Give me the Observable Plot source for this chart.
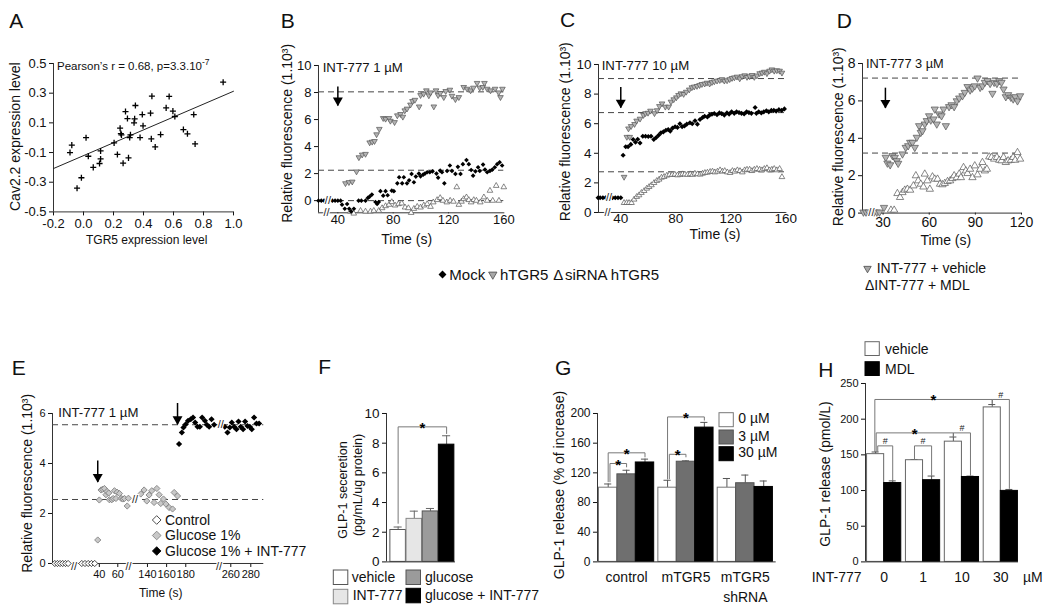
<!DOCTYPE html>
<html><head><meta charset="utf-8">
<script src="https://cdn.jsdelivr.net/npm/d3@7"></script>
<script src="https://cdn.jsdelivr.net/npm/@observablehq/plot@0.6"></script>
<style>
html,body{margin:0;padding:0;background:#fff;}
#root{position:relative;width:1050px;height:611px;overflow:hidden;background:#fff;}
</style></head><body><div id="root"></div>
<script>
// ================= DATA =================
// --- A: correlation ---
const aTGR5 = [-0.09,-0.078,-0.043,-0.014,0.017,0.032,0.065,0.107,0.114,0.114,0.204,0.226,0.244,0.249,0.253,0.264,0.28,0.293,0.3,0.308,0.313,0.346,0.341,0.337,0.377,0.392,0.397,0.447,0.456,0.452,0.478,0.514,0.551,0.571,0.596,0.609,0.666,0.693,0.735,0.744,0.931];
const aCav22 = [-0.1,-0.05,-0.34,-0.27,0.0,-0.125,-0.2,-0.174,-0.089,-0.143,-0.035,-0.113,0.064,0.028,0.019,-0.172,0.176,0.129,-0.136,0.001,0.019,0.217,0.127,0.1,0.001,0.156,0.08,0.165,0.28,-0.008,-0.062,0.021,0.201,0.278,0.179,0.143,0.055,0.026,0.156,-0.042,0.374];
const aFit = {slope: 0.434, intercept: -0.121};
const aXDomain = [-0.2, 1.0], aYDomain = [-0.5, 0.5];
const aXTicks = [-0.2, 0, 0.2, 0.4, 0.6, 0.8, 1.0];
const aYTicks = [-0.5, -0.3, -0.1, 0.1, 0.3, 0.5];

// --- B: INT-777 1 µM ---
const bXDomain = [26, 160], bYDomain = [-0.9, 10];
const bXTicks = [40, 80, 120, 160], bYTicks = [0, 2, 4, 6, 8, 10];
const bMock = [[26,0],[28,0],[30,0],[36,0],[38,0],[40,0],[42,0],[43,-0.3],[45,-0.6],[46.7,-0.25],[48.2,-0.6],[49.6,-0.8],[51.6,-0.6],[55,0],[57,0],[60,0],[61.7,0.2],[63,0.3],[64.6,0.45],[67.2,-0.1],[68.4,-0.25],[69.6,-0.1],[70.8,0.7],[72.8,0.37],[74.5,0.7],[76,0.4],[79,0.74],[80.5,0.7],[83,1.28],[84.3,1.73],[86.5,1.28],[87.7,1.73],[90,1.28],[91.5,1.5],[93.3,1.98],[95,1.36],[96.4,1.78],[98.6,2.0],[99.8,1.8],[101.7,1.93],[103,2.0],[104.6,2.1],[106.5,2.1],[108.5,2.17],[111.3,2.0],[112.5,1.7],[114,2.22],[115.3,2.1],[117,1.28],[119,2.2],[121,2.6],[122.5,2.2],[125,1.98],[126.8,2.5],[128.7,1.98],[130.4,2.7],[133,3.0],[134.7,2.7],[136.4,2.27],[137.8,1.85],[139.5,2.17],[141.4,2.47],[142.6,2.2],[145,2.67],[146.4,2.3],[148,2.1],[150,2.2],[151.7,2.3],[153.5,2.47],[155.2,2.7],[157,2.84],[158.8,2.6]];
const bHTGR5 = [[45.5,1.28],[48,1.36],[50.4,1.4],[53.5,2.15],[55.2,3.2],[57.6,3.4],[60,3.45],[63,4.3],[64.8,4.35],[66.5,4.4],[68,4.9],[70,5.3],[72.8,6.1],[74.5,6.05],[77,6.1],[78,5.9],[81,5.8],[83,6.3],[85.3,6.4],[87,6.2],[88.4,6.67],[90,6.8],[92.5,7.1],[94,7.36],[95.7,7.45],[98.8,6.96],[99.8,7.8],[102,7.9],[104,8.15],[105.8,7.78],[107,8.0],[109.4,6.96],[111,8.15],[112.5,7.8],[114,7.95],[116.6,7.65],[118,8.1],[121,8.2],[122.5,7.75],[125,7.5],[127.5,7.65],[131,8.4],[133.5,8.27],[136,8.15],[138,8.35],[140.7,8.7],[142.6,8.35],[144.8,8.4],[146,8.7],[148,8.27],[150.4,8.15],[153.7,8.27],[156.3,8.0],[157.6,7.65],[159,8.27]];
const bSiRNA = [[49,-0.8],[51.5,-0.95],[56.4,-0.75],[60,-0.8],[63.6,-0.8],[66,-0.75],[69.6,-0.75],[72,-0.55],[74.5,-0.4],[77,-0.3],[79,-0.1],[81.4,-0.35],[83.8,-0.25],[86.2,-0.2],[88.6,-0.5],[91,-0.55],[93,-0.9],[95,-0.6],[97.4,-0.45],[99.8,-0.5],[102.2,-0.35],[104.6,-0.25],[107,-0.45],[109,-0.12],[111.8,0.05],[114,0.2],[116,0.0],[118.8,-0.12],[121.2,0.0],[123.6,-0.07],[126,1.0],[127.5,-0.3],[129.4,-0.07],[131,0.12],[133,0.25],[134.7,0.05],[136.4,-0.12],[138.3,0.05],[140.2,0.0],[143,-0.12],[145.6,0.25],[148,0.0],[150,0.74],[152,0.0],[154.5,1.1],[156.5,0.0],[160,1.0]];
const bPlateaus = [8.05, 2.25, 0];
const bArrows = [{t: 40, from: 8.4, to: 7.0}];
const bBreaks = [{t: 32.8, y: 0}, {t: 31.8, y: -0.9}];

// --- C: INT-777 10 µM ---
const cXDomain = [23.8, 160], cYDomain = [0, 10];
const cXTicks = [40, 80, 120, 160], cYTicks = [0, 2, 4, 6, 8, 10];
const cMock = [[23.5,1],[25,1],[27,1],[29,1],[34,1],[36,1],[38,1],[40,1],[41.7,3.87],[43.6,4.44],[45.3,4.44],[47.3,4.6],[49,4.93],[50.7,4.75],[52.3,4.95],[54,4.7],[56,5.15],[58,5.15],[60,5.13],[62,5.15],[64,4.93],[65.8,5.07],[67.5,5.22],[69.2,5.38],[71,5.45],[72.8,5.56],[74.5,5.6],[76,5.5],[77.6,5.7],[79.5,5.79],[81.2,5.75],[83,6.0],[84.6,5.8],[86.3,5.85],[88,5.97],[90.3,6.06],[92,6.0],[94,6.2],[95.7,5.97],[97.6,6.28],[99.5,6.42],[101,6.5],[103,6.45],[104.6,6.58],[106.3,6.64],[108,6.69],[110,6.6],[111.7,6.73],[113.4,6.68],[115.3,6.58],[117.2,6.73],[118.8,6.65],[120.6,6.8],[122.5,6.7],[124.2,6.8],[126,6.75],[127.8,6.7],[129.7,6.66],[131.5,6.8],[133.2,6.75],[135,6.7],[137.7,7.09],[138.6,6.7],[140.3,6.8],[142.2,6.73],[144,6.8],[145.9,6.87],[147.6,6.8],[149.5,6.9],[151.3,6.9],[153,6.85],[155,6.95],[157,6.9],[159,7.0]];
const cHTGR5 = [[42.4,2.4],[44.4,5.1],[45.6,5.67],[46.5,5.1],[47.5,5.83],[50,5.97],[51.5,6.2],[54,6.33],[56.5,6.58],[58,6.7],[59.8,6.73],[61.6,6.87],[64.5,6.7],[66.4,6.9],[68.1,7.18],[70,7.36],[72.4,7.14],[74.8,7.14],[76.5,7.48],[78.5,7.64],[80.4,7.77],[82,7.93],[83.7,8.04],[85.7,8.0],[87.6,8.15],[89.8,8.3],[91.7,8.45],[93.4,8.5],[95.4,8.54],[97.3,8.6],[99,8.67],[101,8.7],[102.7,8.76],[104.6,8.7],[106.3,8.8],[108,8.85],[110,8.9],[112,8.94],[113.6,9.0],[115.3,8.9],[117.3,8.92],[119.2,9.0],[120.9,9.08],[122.6,9.12],[124.5,9.17],[126.5,9.05],[128.2,9.2],[130.1,9.26],[131.8,9.15],[133.7,9.2],[135.4,9.28],[137.1,9.15],[139,9.25],[141,9.4],[142.7,9.44],[144.4,9.5],[146.3,9.4],[148.2,9.57],[149.9,9.66],[151.6,9.57],[153.5,9.6],[155.5,9.57],[157.2,9.44]];
const cSiRNA = [[42.4,0.65],[44.3,0.65],[46,0.65],[47.8,0.65],[49.7,0.88],[51.6,1.06],[53.3,1.17],[55,1.33],[57,1.46],[58.9,1.62],[60.6,1.73],[62.3,1.85],[64.2,2.0],[66.2,2.14],[67.9,2.23],[69.6,2.36],[71.5,2.41],[73.5,2.5],[75.4,2.55],[77.4,2.55],[79.3,2.57],[81.3,2.52],[83.2,2.55],[84.9,2.59],[86.6,2.58],[88.5,2.55],[90.5,2.59],[92.2,2.55],[93.9,2.63],[95.8,2.59],[97.8,2.57],[99.5,2.63],[101.2,2.68],[103,2.7],[105,2.75],[106.7,2.77],[108.4,2.72],[110.3,2.77],[112.2,2.86],[113.9,2.77],[115.6,2.81],[117.5,2.72],[119.5,2.68],[121.2,2.81],[122.9,2.77],[124.8,2.86],[126.7,2.81],[128.4,2.72],[130.1,2.86],[131.8,2.9],[133.7,2.9],[135.4,2.81],[137.1,2.9],[139,2.95],[141,2.9],[142.7,2.86],[144.4,2.95],[146.3,3.0],[148.2,2.86],[149.9,2.9],[151.6,2.95],[153.5,2.86],[155.5,2.95],[157.2,2.4]];
const cPlateaus = [9.05, 6.75, 2.75];
const cArrows = [{t: 40, from: 8.45, to: 7.05}];
const cBreaks = [{t: 31.5, y: 1}, {t: 30.3, y: 0}];

// --- D: INT-777 3 µM ---
const dXDomain = [16.6, 120], dYDomain = [0, 8];
const dXTicks = [30, 60, 90, 120], dYTicks = [0, 2, 4, 6, 8];
const dVehicle = [[17.2,0.05],[18.9,0.05],[20.7,0.05],[24.1,0.05],[25.9,0.05],[27.6,0.05],[30.6,0.3],[31.7,2.98],[32.8,2.67],[34.6,2.58],[36.1,3.07],[37.6,2.98],[38.9,2.8],[39.8,2.66],[42.6,3.16],[44.7,3.51],[46.3,3.6],[47.6,3.78],[49.1,3.78],[50.6,3.51],[51.9,4.05],[53.4,4.67],[54.5,4.31],[55.6,4.4],[57.1,4.76],[58.4,4.94],[59.9,5.2],[61,4.97],[62.8,5.03],[63.6,5.56],[64.9,4.76],[66.4,5.3],[68,5.2],[69.3,5.56],[70.8,4.67],[72.9,5.69],[74.5,5.79],[76.2,5.69],[77.9,6.0],[79.5,6.15],[81.6,6.27],[83.1,6.45],[84.9,6.76],[86.6,6.58],[88.1,6.68],[89.6,6.8],[91.4,7.22],[93.1,6.72],[94.6,6.8],[96.2,6.99],[97.9,7.08],[99.6,6.93],[101.1,6.4],[102.2,6.99],[104,6.93],[105.5,7.08],[107,6.99],[108.3,6.63],[109.8,6.22],[111.3,6.33],[113.1,6.19],[114.6,6.1],[115.9,6.22],[117.4,6.0],[119.1,6.27]];
const dMDL = [[35.1,0.16],[37.2,0.16],[39.3,1.05],[41,0.84],[42.6,1.1],[44.1,1.23],[45.8,1.28],[47.6,1.23],[49.7,1.46],[51.3,2.0],[52.8,1.73],[54.5,1.55],[56.2,1.4],[57.1,2.09],[58.8,1.73],[60.4,1.28],[62.1,1.94],[63.6,1.82],[65.4,1.82],[67,1.55],[68.6,1.52],[70.1,1.59],[71.9,1.69],[73.6,1.73],[75.1,1.85],[76.2,2.0],[77.9,1.9],[79.5,2.09],[80.6,1.9],[82.3,2.44],[83.8,2.26],[84.9,2.12],[86.6,2.35],[88.1,1.9],[89.6,2.53],[91.4,2.05],[93.1,2.35],[94.6,2.71],[96.2,2.26],[97.5,2.35],[99,3.01],[100.5,2.98],[102.2,2.89],[104,2.98],[105.5,2.83],[107,2.8],[108.3,2.98],[109.8,2.71],[111.3,2.8],[113.1,2.83],[114.6,2.98],[115.9,2.83],[117.4,3.24],[119.1,2.89]];
const dPlateaus = [7.22, 3.21];
const dArrows = [{t: 31.5, from: 6.68, to: 5.6}];
const dBreaks = [{t: 22.4, y: 0.05}];

// --- E: glucose (broken time axis) ---
const eYDomain = [0, 6], eYTicks = [0, 2, 4, 6];
const eXTicks = [40, 60, 140, 160, 180, 260, 280];
const eXSegments = [-12, 10, 12.7, 71.6, 120.2, 214.8, 248.3, 293]; // piecewise time domain (breaks collapse)
const eControl = [[-9.7,0],[-7,0],[-4.3,0],[-1.6,0],[1.2,0],[3.9,0],[21,0],[24.5,0],[28,0],[31.5,0],[35,0]];
const eGlucose = [[38.3,0.94],[40,2.54],[41.9,2.94],[43.6,2.97],[45.5,3.0],[47.2,2.75],[48.4,2.88],[50.2,2.82],[50.9,2.55],[53.5,2.55],[55,2.6],[56.4,2.91],[58,2.6],[59.3,2.85],[61.8,2.8],[63.7,2.6],[65.5,2.58],[67.3,2.6],[70.2,2.3],[71.5,2.61],[133,2.78],[136.5,2.94],[139.3,2.5],[141.7,2.74],[144.5,2.91],[146.9,2.44],[149.8,3.0],[152.2,2.75],[153.9,2.4],[156.7,2.58],[159.2,2.38],[162.6,2.24],[166.2,2.18],[167.9,2.84],[171.4,2.7]];
const eGlucoseINT = [[173,4.78],[175.9,5.24],[177.6,5.44],[180,5.57],[182.4,5.71],[185.2,5.77],[187.6,5.84],[189.8,5.64],[192.3,5.47],[194.7,5.47],[197.1,5.84],[200,5.71],[202,5.55],[204.4,5.47],[206.9,5.77],[209.6,5.55],[254,5.47],[256.7,5.24],[259,5.44],[261,5.64],[263.3,5.47],[265.7,5.37],[267.7,5.68],[270,5.47],[272.3,5.37],[274.3,5.68],[276.7,5.5],[279,5.47],[281,5.37],[283.3,5.84],[285.7,5.6],[288.3,5.6]];
const ePlateaus = [5.55, 2.56];
const eArrows = [{t: 38.3, from: 4.1, to: 3.24}, {t: 171.4, from: 6.4, to: 5.55}];
const eAxisBreaks = [{t: 10, y: 0}, {t: 71.6, y: 0}, {t: 214.8, y: 0}];
const eDataBreaks = [{t: 127.1, y: 2.56}, {t: 250, y: 5.55}];

// --- F: GLP-1 secretion ---
const fLabels = ["vehicle", "INT-777", "glucose", "glucose + INT-777"];
const fMeans = [2.15, 2.9, 3.4, 7.9];
const fErrTop = [2.35, 3.42, 3.6, 8.5];
const fYDomain = [0, 10], fYTicks = [0, 2, 4, 6, 8, 10];
const fSig = [{a: 0, b: 3, level: 9.1, footA: 2.6, footB: 8.65, mark: "*"}];

// --- G: GLP-1 release (% of increase) ---
const gGroups = ["control", "mTGR5", "mTGR5\nshRNA"];
const gDoses = ["0 µM", "3 µM", "30 µM"];
const gMeans = [[100, 118, 134], [100, 135, 181], [100, 106, 101]];
const gErrTop = [[105, 123.5, 138.5], [110, 136.2, 188], [112.4, 117, 109]];
const gYDomain = [0, 200], gYTicks = [0, 40, 80, 120, 160, 200];
const gSig = [
  {g: 0, a: 0, b: 2, level: 147, footA: 108, footB: 141.5, mark: "*"},
  {g: 0, a: 0, b: 1, level: 132.6, footA: 108, footB: 128, mark: "*"},
  {g: 1, a: 0, b: 2, level: 195.4, footA: 112, footB: 191, mark: "*"},
  {g: 1, a: 0, b: 1, level: 145, footA: 112, footB: 141.5, mark: "*"}];

// --- H: GLP-1 release (pmol/L) ---
const hDoses = ["0", "1", "10", "30"];
const hTreatments = ["vehicle", "MDL"];
const hMeans = [[151, 110.5], [142.5, 114.5], [168.5, 119], [216.5, 99.5]];
const hErrTop = [[154, 113.5], [143.5, 120.3], [175, 120.2], [220.5, 101.5]];
const hYDomain = [0, 250], hYTicks = [0, 50, 100, 150, 200, 250];
const hSig = [
  {ga: 0, ta: 0, gb: 3, tb: 0, level: 227.6, footA: 154.5, footB: 222, mark: "*"},
  {ga: 0, ta: 0, gb: 2, tb: 0, level: 180.8, footA: 154.5, footB: 175.5, mark: "*"},
  {ga: 0, ta: 0, gb: 0, tb: 1, level: 162.6, footA: 154.5, footB: 114.5, mark: "#"},
  {ga: 1, ta: 0, gb: 1, tb: 1, level: 162.6, footA: 144, footB: 121.5, mark: "#"},
  {ga: 2, ta: 0, gb: 2, tb: 1, level: 180.8, footA: 175.5, footB: 122, mark: "#"},
  {ga: 3, ta: 0, gb: 3, tb: 1, level: 227.6, footA: 222, footB: 103, mark: "#"}];

// ================= RENDERING =================
const FONT = '"Liberation Sans", Arial, Helvetica, sans-serif';
const AX = "#333";
const root = document.getElementById("root");

const triDown = {draw(ctx, size) {
  const y = -Math.sqrt(size / (Math.sqrt(3) * 3));
  ctx.moveTo(0, -2 * y); ctx.lineTo(-Math.sqrt(3) * y, y); ctx.lineTo(Math.sqrt(3) * y, y); ctx.closePath();
}};

const PL = 50, PR = 14, PT = 12, PB = 40;
function panel(fr, opts, tickFont) {
  const width = fr.x2 - fr.x1 + PL + PR, height = fr.y2 - fr.y1 + PT + PB;
  const svg = Plot.plot({
    width, height, marginLeft: PL, marginRight: PR, marginTop: PT, marginBottom: PB,
    style: {background: "transparent", overflow: "visible", fontFamily: FONT, fontSize: tickFont + "px", color: "#111"},
    ...opts
  });
  svg.style.position = "absolute";
  svg.style.left = (fr.x1 - PL) + "px";
  svg.style.top = (fr.y1 - PT) + "px";
  root.appendChild(svg);
  return svg;
}
const axisLines = (xd, yd) => [Plot.ruleX([xd[0]], {stroke: AX}), Plot.ruleY([yd[0]], {stroke: AX})];
const xy = {x: d => d[0], y: d => d[1]};
const dashes = (list) => Plot.ruleY(list, {y: d => d, stroke: "#444", strokeDasharray: "6,4", strokeWidth: 1});
const arrows = (list) => [
  Plot.ruleX(list, {x: "t", y1: "from", y2: "to", stroke: "#000", strokeWidth: 1.5}),
  Plot.dot(list, {x: "t", y: "to", symbol: triDown, r: 3.7, fill: "#000", dy: -5.6})];
const breaks = (list, dy = 0) => Plot.text(list, {x: "t", y: "y", text: () => "//", fontSize: 11, fill: "#222",
  stroke: "#fff", strokeWidth: 2.5, paintOrder: "stroke", dy});
const sty = {
  mock: {symbol: "diamond2", r: 2.1, fill: "#000"},
  up: {symbol: triDown, r: 2.1, fill: "#b4b4b4", stroke: "#555", strokeWidth: 0.7},
  dn: {symbol: "triangle", r: 2.1, fill: "#fff", stroke: "#555", strokeWidth: 0.7}
};
const tk = {tickSize: 4, tickPadding: 3, label: null};

// A
panel({x1: 53, x2: 233, y1: 63.3, y2: 211.7}, {
  x: {domain: aXDomain, ticks: aXTicks, tickFormat: d => d.toFixed(1), ...tk},
  y: {domain: aYDomain, ticks: aYTicks, tickFormat: d => d.toFixed(1), ...tk},
  marks: [
    ...axisLines(aXDomain, aYDomain),
    Plot.line(aXDomain.map(x => ({x, y: aFit.intercept + aFit.slope * x})), {x: "x", y: "y", stroke: "#222", strokeWidth: 1}),
    Plot.dot(aTGR5.map((x, i) => ({x, y: aCav22[i]})), {x: "x", y: "y", symbol: "plus", r: 2.1, stroke: "#000", strokeWidth: 1.3})
  ]}, 13);

// B
panel({x1: 318, x2: 503.3, y1: 65, y2: 212.3}, {
  x: {domain: bXDomain, ticks: bXTicks, ...tk, tickSize: 1, tickPadding: 1},
  y: {domain: bYDomain, ticks: bYTicks, ...tk, tickFormat: d => String(d)},
  marks: [
    ...axisLines(bXDomain, bYDomain), dashes(bPlateaus),
    Plot.dot(bSiRNA, {...xy, ...sty.dn}), Plot.dot(bHTGR5, {...xy, ...sty.up}), Plot.dot(bMock, {...xy, ...sty.mock}),
    ...arrows(bArrows), breaks(bBreaks)
  ]}, 13);

// C
panel({x1: 597.7, x2: 785, y1: 64.3, y2: 212.3}, {
  x: {domain: cXDomain, ticks: cXTicks, ...tk, tickSize: 1, tickPadding: 0},
  y: {domain: cYDomain, ticks: cYTicks, ...tk, tickFormat: d => String(d)},
  marks: [
    ...axisLines(cXDomain, cYDomain), dashes(cPlateaus),
    Plot.dot(cSiRNA, {...xy, ...sty.dn}), Plot.dot(cHTGR5, {...xy, ...sty.up}), Plot.dot(cMock, {...xy, ...sty.mock, r: 2.3}),
    ...arrows(cArrows), breaks(cBreaks)
  ]}, 13.5);

// D
panel({x1: 861.7, x2: 1020.7, y1: 62.7, y2: 212.3}, {
  x: {domain: dXDomain, ticks: dXTicks, ...tk, tickSize: 2, tickPadding: 2},
  y: {domain: dYDomain, ticks: dYTicks, ...tk, tickFormat: d => String(d)},
  marks: [
    ...axisLines(dXDomain, dYDomain), dashes(dPlateaus),
    Plot.dot(dMDL, {...xy, ...sty.dn, r: 2.7}), Plot.dot(dVehicle, {...xy, ...sty.up, r: 2.7}),
    ...arrows(dArrows), breaks(dBreaks)
  ]}, 14);

// E (piecewise time axis)
const eFr = {x1: 51.7, x2: 263, y1: 412.7, y2: 562.7};
const eSegPx = [51.7, 73.3, 73.3, 127.7, 127.7, 218.3, 218.3, 263];
panel(eFr, {
  x: {type: "linear", domain: eXSegments, range: eSegPx.map(p => p - (eFr.x1 - PL)), ticks: eXTicks, tickFormat: d => String(d), ...tk},
  y: {domain: eYDomain, ticks: eYTicks, tickFormat: d => String(d), ...tk},
  marks: [
    ...axisLines(eXSegments, eYDomain), dashes(ePlateaus),
    Plot.dot(eControl, {...xy, symbol: "diamond2", r: 2.8, fill: "#fff", stroke: "#222", strokeWidth: 0.8}),
    Plot.dot(eGlucose, {...xy, symbol: "diamond2", r: 2.8, fill: "#c8c8c8", stroke: "#777", strokeWidth: 0.8}),
    Plot.dot(eGlucoseINT, {...xy, symbol: "diamond2", r: 2.8, fill: "#000"}),
    ...arrows(eArrows), breaks(eAxisBreaks, 2.5), breaks(eDataBreaks)
  ]}, 11);

// bracket helper
function bracketMarks(list, stroke) {
  const pts = list.flatMap((b, k) => [{k, x: b.xa, y: b.footA}, {k, x: b.xa, y: b.level}, {k, x: b.xb, y: b.level}, {k, x: b.xb, y: b.footB}]);
  const stars = list.filter(b => b.mark === "*"), hashes = list.filter(b => b.mark === "#");
  return [
    Plot.line(pts, {x: "x", y: "y", z: "k", stroke, strokeWidth: 1}),
    Plot.text(stars, {x: b => (b.xa + b.xb) / 2, y: "level", text: () => "*", fontSize: 15, fontWeight: "bold", lineAnchor: "bottom", dy: 6, fill: "#000"}),
    Plot.text(hashes, {x: b => (b.xa + b.xb) / 2, y: "level", text: () => "#", fontSize: 9, lineAnchor: "bottom", dy: -1.5, fill: "#222"})
  ];
}
const errMarks = (bars, cap, stroke) => [
  Plot.ruleX(bars, {x: "c", y1: "v", y2: "e", stroke, strokeWidth: 1}),
  Plot.ruleY(bars, {y: "e", x1: d => d.c - cap, x2: d => d.c + cap, stroke, strokeWidth: 1})];

// F
const fXDomain = [-0.72, 3.55];
const fFill = ["#ffffff", "#e6e6e6", "#9b9b9b", "#000000"];
const fStroke = ["#555", "#888", "#555", "#000"];
const fBars = fMeans.map((v, i) => ({i, c: i, v, e: fErrTop[i]}));
panel({x1: 386, x2: 455, y1: 413.3, y2: 561.7}, {
  x: {domain: fXDomain, axis: null},
  y: {domain: fYDomain, ticks: fYTicks, tickFormat: d => String(d), ...tk},
  marks: [
    ...errMarks(fBars, 0.25, "#666"),
    Plot.rect(fBars, {x1: d => d.c - 0.48, x2: d => d.c + 0.48, y1: 0, y2: "v", fill: d => fFill[d.i], stroke: d => fStroke[d.i], strokeWidth: 1}),
    ...axisLines(fXDomain, fYDomain),
    ...bracketMarks(fSig.map(b => ({...b, xa: b.a, xb: b.b})), "#777")
  ]}, 13.5);

// G
const gXDomain = [-0.49, 2.52];
const gFill = ["#ffffff", "#6f6f6f", "#000000"], gStroke = ["#777", "#555", "#000"];
const gBarW = 0.31;
const gBars = gMeans.flatMap((row, g) => row.map((v, d) => ({g, d, c: g + (d - 1) * gBarW, v, e: gErrTop[g][d]})));
panel({x1: 597.3, x2: 776, y1: 413.3, y2: 561.7}, {
  x: {domain: gXDomain, axis: null},
  y: {domain: gYDomain, ticks: gYTicks, tickFormat: d => String(d), ...tk},
  marks: [
    ...errMarks(gBars, 0.06, "#555"),
    Plot.rect(gBars, {x1: d => d.c - gBarW / 2, x2: d => d.c + gBarW / 2, y1: 0, y2: "v", fill: d => gFill[d.d], stroke: d => gStroke[d.d], strokeWidth: 1}),
    ...axisLines(gXDomain, gYDomain),
    ...bracketMarks(gSig.map((b, k) => ({...b, xa: b.g + (b.a - 1) * gBarW + (k % 2 ? 0.03 : 0), xb: b.g + (b.b - 1) * gBarW})), "#777"),
    Plot.text(gGroups.map((s, i) => ({s, i})), {x: "i", frameAnchor: "bottom", text: "s", lineAnchor: "top", dy: 6.5, fontSize: 14, lineHeight: 1.4, fill: "#111"})
  ]}, 12);

// H
const hXDomain = [-0.48, 3.455];
const hHalf = 0.22;
const hFill = ["#ffffff", "#000000"], hStroke = ["#666", "#000"];
const hBars = hMeans.flatMap((row, g) => row.map((v, t) => ({g, t, c: g + (t ? hHalf : -hHalf), v, e: hErrTop[g][t]})));
const hOff = [-0.02, 0.015, 0.055, 0, 0, 0];
panel({x1: 865, x2: 1018, y1: 383.3, y2: 561.7}, {
  x: {domain: hXDomain, axis: null},
  y: {domain: hYDomain, ticks: hYTicks, tickFormat: d => String(d), ...tk},
  marks: [
    ...errMarks(hBars, 0.09, "#555"),
    Plot.rect(hBars, {x1: d => d.c - hHalf, x2: d => d.c + hHalf, y1: 0, y2: "v", fill: d => hFill[d.t], stroke: d => hStroke[d.t], strokeWidth: 1}),
    ...axisLines(hXDomain, hYDomain),
    ...bracketMarks(hSig.map((b, k) => ({...b, xa: b.ga + (b.ta ? hHalf : -hHalf) + hOff[k], xb: b.gb + (b.tb ? hHalf : -hHalf)})), "#777"),
    Plot.text(hDoses.map((s, i) => ({s, i})), {x: "i", frameAnchor: "bottom", text: "s", lineAnchor: "top", dy: 10, fontSize: 14, fill: "#111"})
  ]}, 11);

// ================= TEXT OVERLAY =================
const ov = d3.select(root).append("svg").attr("width", 1050).attr("height", 611)
  .style("position", "absolute").style("left", "0px").style("top", "0px")
  .attr("font-family", FONT).attr("fill", "#111");
function label(x, y, s, size = 14, anchor = "start", rot = false) {
  const t = ov.append("text").attr("x", x).attr("y", y).attr("font-size", size).attr("text-anchor", anchor).text(s);
  if (rot) t.attr("transform", `rotate(-90 ${x} ${y})`);
  return t;
}
function sym(cx, cy, type, area, fill, stroke, sw = 0.8) {
  ov.append("path").attr("d", d3.symbol(type, area)()).attr("transform", `translate(${cx},${cy})`)
    .attr("fill", fill).attr("stroke", stroke || "none").attr("stroke-width", sw);
}
function box(x, y, w, h, fill, stroke) {
  ov.append("rect").attr("x", x).attr("y", y).attr("width", w).attr("height", h).attr("fill", fill).attr("stroke", stroke).attr("stroke-width", 1);
}

// panel letters
[["A", 9.3, 28.3], ["B", 280.7, 28.3], ["C", 560, 27.3], ["D", 836.7, 28.3], ["E", 11.7, 375], ["F", 318.3, 374], ["G", 555, 375], ["H", 818.3, 377]]
  .forEach(([s, x, y]) => label(x, y, s, 21));

// annotations
const pear = label(57, 70, "Pearson’s r = 0.68, p=3.3.10", 11.5);
pear.append("tspan").attr("dy", -5).attr("font-size", 8.5).text("-7");
label(322.7, 71.7, "INT-777 1 µM", 13.2);
label(601.7, 70, "INT-777 10 µM", 13.2);
label(866, 68.3, "INT-777 3 µM", 12.8);
label(58.3, 417.3, "INT-777 1 µM", 13.2);

// axis titles
label(146.7, 244.3, "TGR5 expression level", 12, "middle");
label(20.5, 136.7, "Cav2.2 expression level", 14, "middle", true);
const RF = "Relative fluorescence (1.10³)";
label(292, 133.3, RF, 14, "middle", true);
label(570, 131.7, RF, 14, "middle", true);
label(843.3, 136.7, RF, 14, "middle", true);
label(31.7, 483.3, RF, 14, "middle", true);
label(406.7, 243.5, "Time (s)", 14, "middle");
label(715, 238.5, "Time (s)", 14, "middle");
label(945.8, 244.7, "Time (s)", 14, "middle");
label(160.7, 597, "Time (s)", 12, "middle");
label(347, 490, "GLP-1 seceretion", 12.5, "middle", true);
label(362, 485, "(pg/mL/ug protein)", 12.5, "middle", true);
label(563.5, 485, "GLP-1 release (% of increase)", 14, "middle", true);
label(829.5, 474, "GLP-1 release (pmol/L)", 14, "middle", true);
label(811.7, 581.7, "INT-777", 14);
label(1023, 581.7, "µM", 14);

// B/C shared legend
sym(442.5, 274.5, d3.symbolDiamond2, 40, "#000");
label(449.3, 280, "Mock", 15);
sym(492.8, 274.5, triDown, 30, "#a8a8a8", "#4a4a4a");
label(500, 280, "hTGR5", 15);
label(553.3, 280, "Δ", 15);
label(565, 280, "siRNA hTGR5", 15);

// D legend
sym(867.5, 268.5, triDown, 24, "#a8a8a8", "#4a4a4a");
label(876.7, 273.3, "INT-777 + vehicle", 14);
label(865, 290, "ΔINT-777 + MDL", 14);

// E legend
const eLegend = [["Control", "#fff", "#222", 524.5], ["Glucose 1%", "#c8c8c8", "#777", 540], ["Glucose 1% + INT-777", "#000", "#000", 555.5]];
eLegend.forEach(([s, f, st, y]) => { sym(156.7, y - 4.5, d3.symbolDiamond2, 48, f, st); label(165, y, s, 14); });

// F legend
const fLegendPos = [[333.3, 570, 351.7, 581.7], [333.3, 589.3, 352.7, 600], [406, 570, 425, 581.7], [406, 588.3, 425, 600]];
[0, 1, 2, 3].forEach((i, k) => { const [bx, by, tx, ty] = fLegendPos[k]; box(bx, by, 14.5, 14.5, fFill[i], fStroke[i]); label(tx, ty, fLabels[i], 14); });

// G legend
gDoses.forEach((s, d) => { const y = [412.7, 430, 446.7][d]; box(719, y, 14.3, 14, gFill[d], gStroke[d]); label(738.3, y + 10.7, s, 14); });

// H legend
hTreatments.forEach((s, t) => { const y = [341.7, 361.7][t]; box(865, y, 14.3, 13.8, hFill[t], hStroke[t]); label(885, y + 12.3, s, 14); });
</script></body></html>
